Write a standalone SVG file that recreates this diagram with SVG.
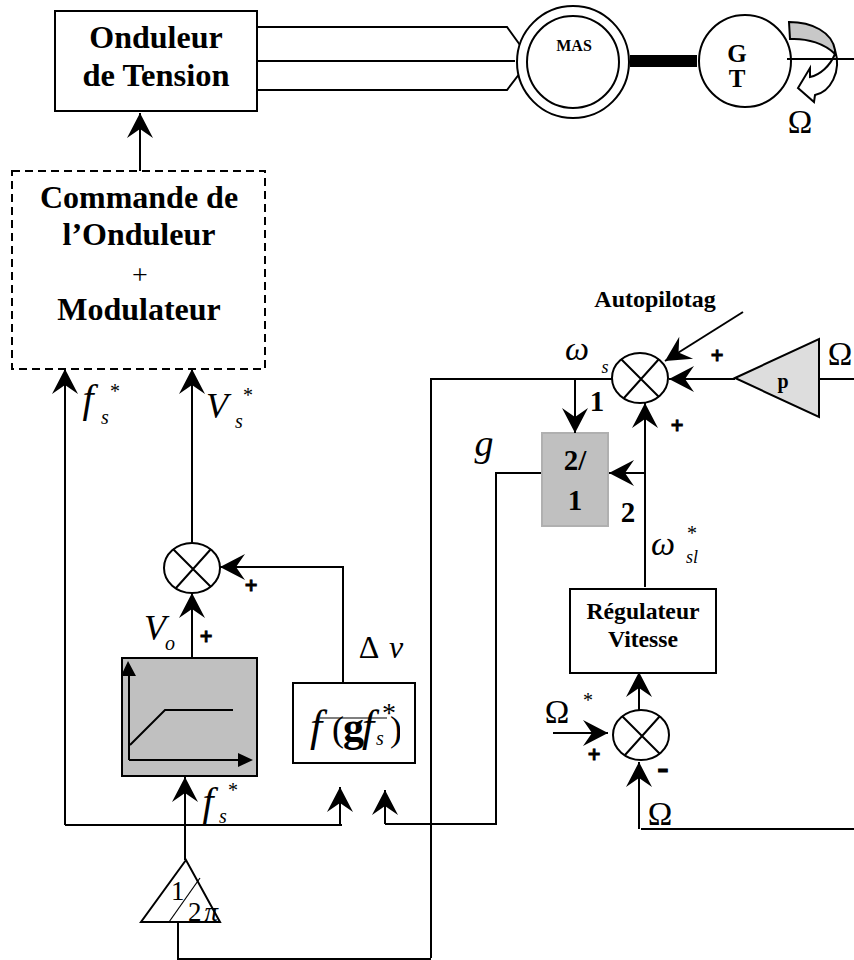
<svg xmlns="http://www.w3.org/2000/svg" width="854" height="960" viewBox="0 0 854 960">
<style>
text{font-family:"Liberation Serif","Times New Roman",serif;fill:#000}
.b{font-weight:bold;text-anchor:middle}
.i{font-style:italic}
.m{text-anchor:middle}
.box{fill:#fff;stroke:#000;stroke-width:2}
.sum{fill:#fff;stroke:#000;stroke-width:2}
.cross{stroke:#000;stroke-width:2;fill:none}
.c{fill:none;stroke:#000;stroke-width:2}
.a{marker-end:url(#arr)}
.pl{font-family:"DejaVu Sans",sans-serif;font-weight:bold;font-size:17px;text-anchor:middle;stroke:#000;stroke-width:.8}
.sym{font-size:33px;text-anchor:middle}
</style>
<defs>
<marker id="arr" markerUnits="userSpaceOnUse" markerWidth="30" markerHeight="30" viewBox="-28 -15 30 30" refX="0" refY="0" orient="auto">
<path d="M0,0 L-25,-13 L-16,0 L-25,13 Z" fill="#000"/>
</marker>
<clipPath id="fc"><rect x="295" y="690" width="105" height="70"/></clipPath>
<g id="xs"><ellipse class="sum" rx="28" ry="25"/><path class="cross" d="M-19,-19 L19,19 M19,-19 L-16,20"/></g>
</defs>
<g id="connectors">
<path class="c" d="M257,27H507L520,45M257,61H515M257,90H507L520,73"/>
<path d="M630,55H697V67H630Z" fill="#000"/>
<path class="c" d="M65,825H342"/>
<path class="c" d="M385,824H496V473H541"/>
<path class="c" d="M431,958V379H612"/>
<path class="c" d="M178,922V959H431"/>
<path class="c" d="M819,379H854"/>
<path class="c" d="M645,587V473"/>
<path class="c" d="M641,829H854"/>
</g>
<g id="onduleur"><rect class="box" x="55" y="11" width="202" height="100"/><text class="b" font-size="32" x="156" y="48">Onduleur</text><text class="b" font-size="32.5" x="156" y="86">de Tension</text></g>
<g id="commande"><rect x="12" y="171" width="253" height="198" fill="#fff" stroke="#000" stroke-width="2" stroke-dasharray="8 5"/><text class="b" font-size="32" x="139" y="208">Commande de</text><text class="b" font-size="32" x="139" y="245">l’Onduleur</text><text class="m" font-size="28" x="140" y="284">+</text><text class="b" font-size="32" x="139" y="320">Modulateur</text></g>
<g id="mas"><circle class="box" cx="573" cy="62" r="56"/><circle class="box" cx="573" cy="62" r="46"/><text class="b" font-size="16" x="574" y="51">MAS</text></g>
<g id="gt"><circle class="box" cx="745" cy="61" r="46"/><text class="b" font-size="25" x="737" y="62">G</text><text class="b" font-size="25" x="737" y="87">T</text></g>
<g id="rotation">
<path d="M789,22C812,22 832,32 835,50L835,54C825,44 808,38 790,39Z" fill="#c8c8c8" stroke="#000" stroke-width="2"/>
<path d="M835,50C842,72 830,92 815,95L814,102L798,88L810,68L810,77C820,75 830,66 835,54Z" fill="#fff" stroke="#000" stroke-width="2"/>
<path class="c" d="M787,59H854"/>
<text class="sym" x="800" y="133">Ω</text>
</g>
<g id="p"><path d="M735,378L819,339V417Z" fill="#ddd" stroke="#000" stroke-width="2"/><text class="b" font-size="20" x="783" y="388">p</text></g>
<g id="sum1"><use href="#xs" x="640" y="378"/></g>
<g id="sum2"><use href="#xs" x="192" y="568"/></g>
<g id="sum3"><use href="#xs" x="641" y="735"/></g>
<g id="switch"><rect x="542" y="433" width="66" height="93" fill="#c0c0c0" stroke="#b0b0b0" stroke-width="2"/><text class="b" font-size="29" x="575" y="470">2/</text><text class="b" font-size="29" x="575" y="510">1</text></g>
<g id="regulateur"><rect class="box" x="570" y="589" width="146" height="84"/><text class="b" font-size="23.7" x="643" y="619">Régulateur</text><text class="b" font-size="23.7" x="643" y="647">Vitesse</text></g>
<g id="ramp"><rect x="122" y="658" width="135" height="118" fill="#c0c0c0" stroke="#000" stroke-width="2"/>
<path d="M129,760V672" class="c"/><path d="M121,676L128,661L136,676Z" fill="#000"/><path class="c" d="M129,760H240"/><path d="M238,753L253,760L238,767Z" fill="#000"/><path class="c" d="M130,745L165,710H233"/></g>
<g id="fg"><rect class="box" x="293" y="683" width="122" height="80"/>
<path d="M320,718H387" stroke="#555" stroke-width="1.5"/>
<g clip-path="url(#fc)"><text class="i" font-size="44" x="310" y="741">f</text><text font-size="36" x="332" y="741">(</text><text font-weight="bold" font-size="42" x="343" y="741">g</text><text class="i" font-size="44" x="362" y="741">f</text><text class="i" font-size="20" x="376" y="745">s</text><text font-size="28" x="382" y="722">*</text><text font-size="36" x="390" y="741">)</text></g></g>
<g id="gain"><path d="M186,860L141,922H220Z" fill="#fff" stroke="#000" stroke-width="2"/><path d="M169,922L200,878" stroke="#000" stroke-width="1.2"/><text font-size="27" x="171" y="900">1</text><text font-size="27" x="188" y="921" letter-spacing="3">2<tspan class="i">π</tspan></text></g>
<g id="arrows">
<path class="c a" d="M140,171V113"/>
<path class="c a" d="M65,825V369"/>
<path class="c a" d="M192,543V369"/>
<path class="c a" d="M192,658V593"/>
<path class="c a" d="M343,683V567H220"/>
<path class="c a" d="M185,860V777"/>
<path class="c a" d="M340,825V787"/>
<path class="c a" d="M385,824V790"/>
<path class="c a" d="M575,379V433"/>
<path class="c a" d="M645,473H609"/>
<path class="c a" d="M645,473V403"/>
<path class="c a" d="M735,379H669"/>
<path class="c a" d="M743,312L665,361"/>
<path class="c a" d="M639,710V672"/>
<path class="c a" d="M553,733H608"/>
<path class="c a" d="M639,829V762"/>
</g>
<g id="labels">
<text class="b" font-size="24" x="655" y="307">Autopilotag</text>
<text class="sym" x="840" y="365">Ω</text>
<text class="i m" font-size="34" x="577" y="360">ω</text>
<text class="i m" font-size="18" x="605" y="373">s</text>
<text class="b" font-size="29" x="597" y="411">1</text>
<text class="b" font-size="29" x="628" y="522">2</text>
<text class="i m" font-size="38" x="484" y="456">g</text>
<text class="i m" font-size="34" x="663" y="555">ω</text>
<text class="m" font-size="20" x="692" y="540">*</text>
<text class="i m" font-size="18" x="692" y="563">sl</text>
<text class="sym" x="557" y="723">Ω</text>
<text class="m" font-size="20" x="588" y="707">*</text>
<text class="sym" x="660" y="825">Ω</text>
<text class="i m" font-size="40" x="88" y="412">f</text>
<text class="i m" font-size="20" x="105" y="424">s</text>
<text class="m" font-size="20" x="115" y="398">*</text>
<text class="i m" font-size="36" x="217" y="418">V</text>
<text class="i m" font-size="20" x="239" y="428">s</text>
<text class="m" font-size="20" x="248" y="402">*</text>
<text class="i m" font-size="36" x="155" y="640">V</text>
<text class="i m" font-size="20" x="170" y="650">o</text>
<text class="m" font-size="32" x="369" y="658">Δ</text>
<text class="i m" font-size="32" x="396" y="658">v</text>
<text class="i m" font-size="40" x="208" y="815">f</text>
<text class="i m" font-size="20" x="223" y="823">s</text>
<text class="m" font-size="20" x="233" y="797">*</text>
<text class="pl" x="717" y="361">+</text>
<text class="pl" x="677" y="431">+</text>
<text class="pl" x="251" y="591">+</text>
<text class="pl" x="206" y="642">+</text>
<text class="pl" x="594" y="760">+</text>
<text class="b" font-size="34" x="663" y="779" stroke="#000">-</text>
</g>
</svg>
